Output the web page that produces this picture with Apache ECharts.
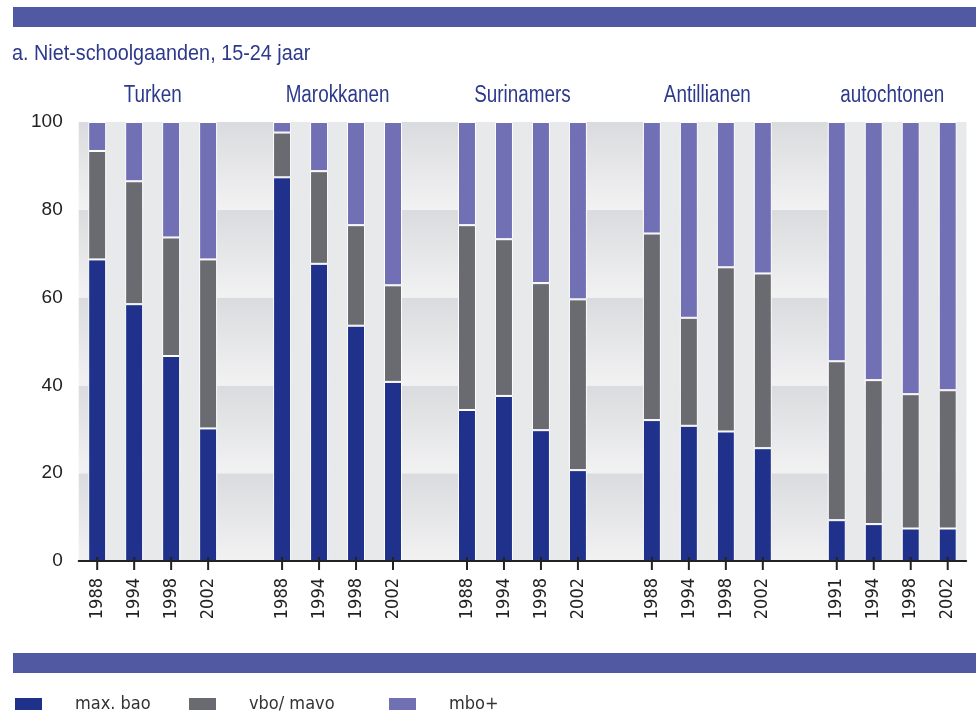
<!DOCTYPE html>
<html>
<head>
<meta charset="utf-8">
<script src="https://cdn.jsdelivr.net/npm/echarts@6/dist/echarts.min.js"></script>
<style>
html,body{margin:0;padding:0;background:#fff;}
#chart{width:976px;height:713px;}
</style>
</head>
<body>
<div id="chart"></div>
<script>
// ---- data ----
const groups = ['Turken', 'Marokkanen', 'Surinamers', 'Antillianen', 'autochtonen'];
const years = [
  ['1988', '1994', '1998', '2002'],
  ['1988', '1994', '1998', '2002'],
  ['1988', '1994', '1998', '2002'],
  ['1988', '1994', '1998', '2002'],
  ['1991', '1994', '1998', '2002']
];
const seriesNames = ['max. bao', 'vbo/ mavo', 'mbo+'];
const bao = [68.7, 58.5, 46.7, 30.2, 87.4, 67.7, 53.6, 40.8, 34.4, 37.6, 29.8, 20.7, 32.1, 30.8, 29.5, 25.7, 9.3, 8.4, 7.4, 7.4];
const vbo = [24.7, 28.0, 27.0, 38.5, 10.2, 21.1, 22.9, 22.0, 42.1, 35.7, 33.5, 38.9, 42.5, 24.6, 37.4, 39.8, 36.2, 32.8, 30.6, 31.5];
const mbo = [6.6, 13.5, 26.3, 31.3, 2.4, 11.2, 23.5, 37.2, 23.5, 26.7, 36.7, 40.4, 25.4, 44.6, 33.1, 34.5, 54.5, 58.8, 62.0, 61.1];
const yTicks = [0, 20, 40, 60, 80, 100];
const title = 'a. Niet-schoolgaanden, 15-24 jaar';

// ---- styles ----
const COND = "'Liberation Sans Narrow', 'DejaVu Sans Condensed', sans-serif";
const REG = "'Liberation Sans', Arial, sans-serif";
const colors = ['#1f318a', '#6a6b70', '#7270b5'];
const BAR_W = 18;

// build category axis with an empty slot between groups
const categories = [];
const idxMap = []; // data index -> category index
years.forEach((ys, g) => {
  ys.forEach(y => { idxMap.push(categories.length); categories.push(y); });
  if (g < years.length - 1) categories.push('');
});
function spread(arr) {
  const out = categories.map(() => '-');
  arr.forEach((v, i) => { out[idxMap[i]] = v; });
  return out;
}
// strips between bars inside each group (plus at right edge)
const stripIdx = [];
years.forEach((ys, g) => {
  const start = idxMap[g * 4];
  for (let k = 0; k < ys.length - 1; k++) stripIdx.push(start + k);
  if (g === years.length - 1) stripIdx.push(start + ys.length - 1);
});
const bands = [];
for (let i = 0; i < yTicks.length - 1; i++) bands.push([0, yTicks[i], yTicks[i + 1]]);

const chart = echarts.init(document.getElementById('chart'), null, {renderer: 'canvas'});

const option = {
  animation: false,
  backgroundColor: '#fff',
  grid: {left: 78.7, right: 9.8, top: 122, bottom: 152, containLabel: false},
  legend: seriesNames.map((n, i) => ({
    data: [n],
    left: [13, 187, 387][i],
    top: 695,
    itemWidth: 29,
    itemHeight: 14,
    itemGap: 0,
    padding: 0,
    icon: 'rect',
    selectedMode: false,
    textStyle: {fontFamily: COND, fontSize: 18, color: '#333', padding: [0, 0, 0, 27]}
  })),
  xAxis: {
    type: 'category',
    data: categories,
    boundaryGap: true,
    axisLine: {show: true, lineStyle: {color: '#222', width: 2}},
    axisTick: {show: false},
    axisLabel: {interval: 0, rotate: 90, margin: 17, fontFamily: COND, fontSize: 18, color: '#222'},
    splitLine: {show: false}
  },
  yAxis: {
    type: 'value', min: 0, max: 100, interval: 20,
    axisLine: {show: false}, axisTick: {show: false},
    splitLine: {show: false},
    axisLabel: {margin: 16, fontFamily: REG, fontSize: 19, color: '#222'}
  },
  series: [
    {
      type: 'custom', z: -3, silent: true,
      data: bands,
      renderItem: (params, api) => {
        const cs = params.coordSys;
        const lo = api.value(1), hi = api.value(2);
        const y1 = api.coord([0, hi])[1], y2 = api.coord([0, lo])[1];
        return {type: 'rect', shape: {x: cs.x, y: y1, width: cs.width, height: y2 - y1},
          style: {fill: new echarts.graphic.LinearGradient(0, 0, 0, 1, [
            {offset: 0, color: '#dadbde'}, {offset: 1, color: '#f2f2f3'}])}};
      }
    },
    {
      type: 'custom', z: -2, silent: true,
      data: stripIdx.map(i => [i, 0]),
      renderItem: (params, api) => {
        const cs = params.coordSys;
        const c = api.coord([api.value(0), 0]);
        const slot = api.size([1, 0])[0];
        const x0 = c[0] + BAR_W / 2;
        const x1 = Math.min(c[0] + slot - BAR_W / 2, cs.x + cs.width);
        return {type: 'rect', shape: {x: x0, y: cs.y, width: x1 - x0, height: cs.height},
          style: {fill: '#e8e9ea'}};
      }
    },
    ...[bao, vbo, mbo].map((arr, i) => ({
      name: seriesNames[i],
      type: 'bar', stack: 'total', z: -1,
      barWidth: BAR_W,
      data: spread(arr),
      itemStyle: {color: colors[i], borderColor: '#fff', borderWidth: 1}
    })),
    {
      // axis tick marks under each bar (none under the gaps between groups)
      type: 'custom', z: 5, silent: true, clip: false,
      data: idxMap.map(i => [i, 0]),
      renderItem: (params, api) => {
        const c = api.coord([api.value(0), 0]);
        return {type: 'line', shape: {x1: c[0], y1: c[1] - 4, x2: c[0], y2: c[1] + 9},
          style: {stroke: '#222', lineWidth: 2}};
      }
    }
  ],
  graphic: [
    {type: 'rect', left: 13, top: 7, shape: {width: 963, height: 20}, style: {fill: '#5259a3'}},
    {type: 'rect', left: 13, top: 653, shape: {width: 963, height: 20}, style: {fill: '#5259a3'}},
    {type: 'text', x: 12, y: 53.5, scaleX: 0.9, scaleY: 1,
      style: {text: title, fontFamily: REG, fontSize: 22, fill: '#2d3a8c', verticalAlign: 'middle'}}
  ]
};
chart.setOption(option);

// group labels centred over each group
const labels = groups.map((g, k) => {
  const a = chart.convertToPixel({xAxisIndex: 0}, idxMap[k * 4 + 1]);
  const b = chart.convertToPixel({xAxisIndex: 0}, idxMap[k * 4 + 2]);
  return {type: 'text', x: (a + b) / 2, y: 96, scaleX: 0.82, scaleY: 1,
    style: {text: g, fontFamily: REG, fontSize: 23, fill: '#2d3a8c', align: 'center', verticalAlign: 'middle'}};
});
chart.setOption({graphic: option.graphic.concat(labels)});
</script>
</body>
</html>
